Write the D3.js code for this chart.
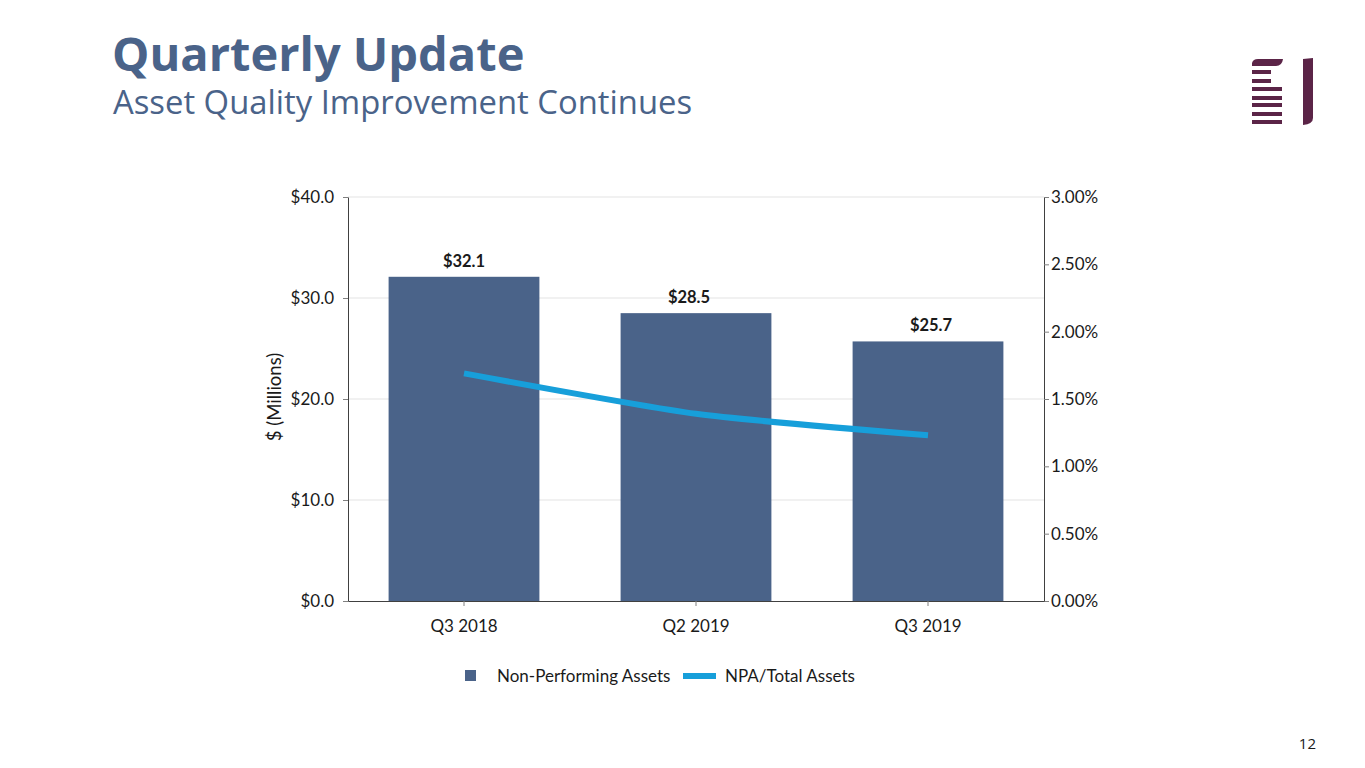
<!DOCTYPE html>
<html>
<head>
<meta charset="utf-8">
<script src="https://cdn.jsdelivr.net/npm/d3@7"></script>
<style>
  body { margin: 0; background: #fff; }
  svg text { font-family: "Open Sans", "Noto Sans", sans-serif; }
  .chart text { font-family: Lato, "Open Sans", sans-serif; fill: #1a1a1a; }
</style>
</head>
<body>
<div id="root"></div>
<script>
  // chart data
  let quarters   = ['Q3 2018', 'Q2 2019', 'Q3 2019'],
      npaValues  = [32.1, 28.5, 25.7],
      npaRatio   = [1.69, 1.39, 1.23],
      leftTicks  = [0, 10, 20, 30, 40],
      rightTicks = [0, 0.5, 1.0, 1.5, 2.0, 2.5, 3.0],
      seriesNames = ['Non-Performing Assets', 'NPA/Total Assets']

  let barColor  = '#4a6389',
      lineColor = '#179fda',
      logoColor = '#5b2447'

  let width = 1365, height = 768,
      m = { left: 348, right: 1044, top: 197, bottom: 601 }

  let svg = d3.select('#root')
              .append('svg:svg')
              .attr('width', width)
              .attr('height', height)

  // heading
  svg.append('svg:text')
    .attr('x', 112).attr('y', 71)
    .attr('font-size', 47).attr('font-weight', 700)
    .attr('fill', '#4a6389')
    .text('Quarterly Update')
  svg.append('svg:text')
    .attr('x', 113).attr('y', 114)
    .attr('font-size', 32.8)
    .attr('fill', '#4a6389')
    .text('Asset Quality Improvement Continues')

  // logo
  let logo = svg.append('svg:g').attr('fill', logoColor)
  logo.append('svg:path')
    .attr('d', 'M1252,66 L1252,63 Q1253,59 1258,59 L1283,59 Q1282,66 1276,66 Z')
  let rows = [[70, 19], [79, 19], [87, 30], [96, 30], [103, 30], [112, 30], [120, 30]]
  logo.selectAll('rect.row').data(rows).enter()
    .append('svg:rect')
      .attr('class', 'row')
      .attr('x', 1252).attr('y', d => d[0])
      .attr('width', d => d[1]).attr('height', 4)
  logo.append('svg:path')
    .attr('d', 'M1303,59 L1313,58 L1313,118 Q1313,124 1303,125 Z')

  // page number
  svg.append('svg:text')
    .attr('x', 1316).attr('y', 749)
    .attr('text-anchor', 'end')
    .attr('font-size', 15)
    .attr('fill', '#1a1a1a')
    .text('12')

  let chart = svg.append('svg:g').attr('class', 'chart')

  let x = d3.scaleBand()
            .domain(quarters)
            .range([m.left, m.right])
            .paddingInner(0.35)
            .paddingOuter(0.175)
  let y = d3.scaleLinear().domain([0, 40]).range([m.bottom, m.top])
  let y2 = d3.scaleLinear().domain([0, 3]).range([m.bottom, m.top])

  // gridlines
  chart.append('svg:g')
    .selectAll('line').data(leftTicks.slice(1)).enter()
    .append('svg:line')
      .attr('x1', m.left).attr('x2', m.right)
      .attr('y1', d => y(d)).attr('y2', d => y(d))
      .attr('stroke', '#e3e3e3').attr('stroke-width', 1)

  // bars
  chart.append('svg:g')
    .selectAll('rect').data(npaValues).enter()
    .append('svg:rect')
      .attr('x', (d, i) => x(quarters[i]))
      .attr('y', d => y(d))
      .attr('width', x.bandwidth())
      .attr('height', d => y(0) - y(d))
      .attr('fill', barColor)

  // bar labels
  let labelShift = [0, -7, 3]
  chart.append('svg:g')
    .selectAll('text').data(npaValues).enter()
    .append('svg:text')
      .attr('x', (d, i) => x(quarters[i]) + x.bandwidth() / 2 + labelShift[i])
      .attr('y', d => y(d) - 10)
      .attr('text-anchor', 'middle')
      .attr('font-size', 16.5).attr('font-weight', 700)
      .text(d => '$' + d.toFixed(1))

  // line
  let line = d3.line()
               .x((d, i) => x(quarters[i]) + x.bandwidth() / 2)
               .y(d => y2(d))
               .curve(d3.curveCardinal.tension(0.4))
  chart.append('svg:path')
    .datum(npaRatio)
    .attr('d', line)
    .attr('fill', 'none')
    .attr('stroke', lineColor)
    .attr('stroke-width', 6)

  // axes
  let axisStyle = function(g) {
    g.select('.domain').attr('stroke', '#404040')
    g.selectAll('.tick line').attr('stroke', '#808080')
    g.selectAll('.tick text').attr('font-size', 17).attr('fill', '#1a1a1a')
  }

  chart.append('svg:g')
    .attr('transform', `translate(${m.left},0)`)
    .call(d3.axisLeft(y).tickValues(leftTicks).tickSize(5).tickSizeOuter(0)
            .tickPadding(9).tickFormat(d => '$' + d.toFixed(1)))
    .call(axisStyle)
    .attr('font-family', null)

  chart.append('svg:g')
    .attr('transform', `translate(${m.right},0)`)
    .call(d3.axisRight(y2).tickValues(rightTicks).tickSize(5).tickSizeOuter(0)
            .tickPadding(2).tickFormat(d => d.toFixed(2) + '%'))
    .call(axisStyle)
    .attr('font-family', null)

  chart.append('svg:g')
    .attr('transform', `translate(0,${m.bottom})`)
    .call(d3.axisBottom(x).tickSize(5).tickSizeOuter(0).tickPadding(14))
    .call(axisStyle)
    .attr('font-family', null)

  // axis title
  chart.append('svg:text')
    .attr('transform', `translate(281,397) rotate(-90)`)
    .attr('text-anchor', 'middle')
    .attr('font-size', 18.5)
    .text('$ (Millions)')

  // legend
  let legend = chart.append('svg:g')
  legend.append('svg:rect')
    .attr('x', 465).attr('y', 670).attr('width', 11).attr('height', 11)
    .attr('fill', barColor)
  legend.append('svg:text')
    .attr('x', 497).attr('y', 682).attr('font-size', 17)
    .text(seriesNames[0])
  legend.append('svg:line')
    .attr('x1', 683).attr('x2', 716).attr('y1', 676).attr('y2', 676)
    .attr('stroke', lineColor).attr('stroke-width', 6)
  legend.append('svg:text')
    .attr('x', 725).attr('y', 682).attr('font-size', 17)
    .text(seriesNames[1])
</script>
</body>
</html>
